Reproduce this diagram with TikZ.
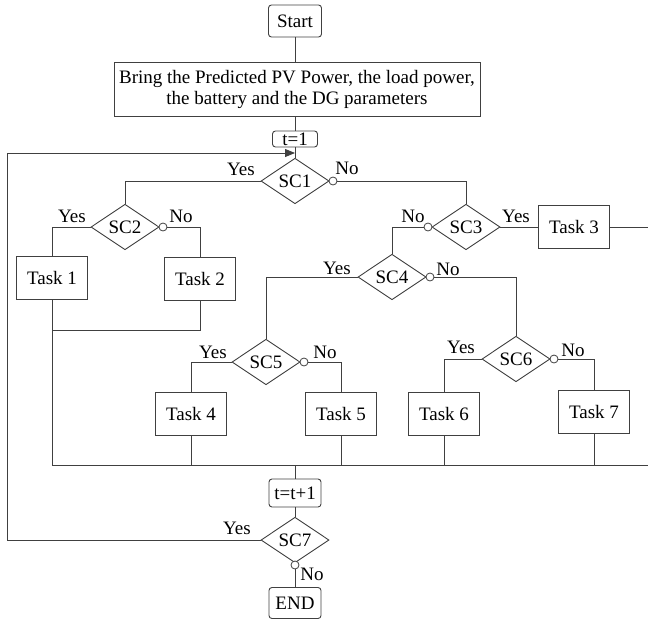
\documentclass[tikz,border=0pt]{standalone}
\usepackage{fontspec}
\setmainfont{Liberation Serif}
\usepackage{tikz}
\usetikzlibrary{positioning,shapes.geometric,arrows.meta}
\definecolor{FlowLine}{HTML}{404040}

\begin{document}
\begin{tikzpicture}[x=1pt,y=-1pt,>={Triangle[length=10pt,width=8pt]},
  line width=0.9pt,draw=FlowLine,font=\fontsize{19}{21}\selectfont]
  \tikzstyle{roundbox}=[draw=FlowLine,rounded corners=3pt,inner xsep=3pt,inner ysep=1pt]
  \tikzstyle{taskbox}=[draw=FlowLine,minimum width=71pt,minimum height=43pt,inner sep=2pt]
  \tikzstyle{testbox}=[draw=FlowLine,diamond,minimum width=68pt,minimum height=42pt,inner sep=0pt]
  \tikzstyle{nodot}=[draw=FlowLine,fill=white,circle,minimum size=8pt,inner sep=0pt,line width=0.8pt]
  \tikzstyle{branch}=[inner sep=0pt,anchor=base]
  \useasboundingbox (0,0) rectangle (648,621);
  % main column
  \node[roundbox,minimum width=53pt,minimum height=32pt] (start) at (295,21) {Start};
  \node[draw=FlowLine,minimum width=366pt,minimum height=54pt,align=center,inner sep=1pt] (bring) at (297,89)
    {Bring the Predicted PV Power, the load power,\\the battery and the DG parameters};
  \node[roundbox,minimum width=45pt,minimum height=16pt] (tone) at (295,139) {t=1};
  \node[testbox] (sc1) at (295,181) {SC1};
  \node[nodot] (c1) at (333,181) {};
  % left part
  \node[testbox] (sc2) at (125,227) {SC2};
  \node[nodot] (c2) at (163,227) {};
  \node[taskbox] (t1) at (52,278) {Task 1};
  \node[taskbox] (t2) at (200,279) {Task 2};
  % right part
  \node[testbox] (sc3) at (466,227) {SC3};
  \node[nodot] (c3) at (428,227) {};
  \node[taskbox] (t3) at (574,227) {Task 3};
  \node[testbox] (sc4) at (392,277) {SC4};
  \node[nodot] (c4) at (430,277) {};
  \node[testbox] (sc5) at (266,362) {SC5};
  \node[nodot] (c5) at (304,362) {};
  \node[testbox] (sc6) at (516,359) {SC6};
  \node[nodot] (c6) at (554,359) {};
  \node[taskbox] (t4) at (191,414) {Task 4};
  \node[taskbox] (t5) at (341,414) {Task 5};
  \node[taskbox] (t6) at (444,414) {Task 6};
  \node[taskbox] (t7) at (594,412) {Task 7};
  % bottom
  \node[roundbox,minimum width=52pt,minimum height=28pt] (tinc) at (295,493) {t=t+1};
  \node[testbox] (sc7) at (295,540) {SC7};
  \node[nodot] (c7) at (295,565) {};
  \node[roundbox,minimum width=52pt,minimum height=31pt] (endn) at (295,603) {END};
  % branch labels
  \node[branch] (y1) at (241,175) {Yes};
  \node[branch] (n1) at (347,174) {No};
  \node[branch] (y2) at (72,222) {Yes};
  \node[branch] (n2) at (181,222) {No};
  \node[branch] (n3) at (413,222) {No};
  \node[branch] (y3) at (516,222) {Yes};
  \node[branch] (y4) at (337,274) {Yes};
  \node[branch] (n4) at (448,275) {No};
  \node[branch] (y5) at (213,358) {Yes};
  \node[branch] (n5) at (325,358) {No};
  \node[branch] (y6) at (461,353) {Yes};
  \node[branch] (n6) at (573,356) {No};
  \node[branch] (y7) at (237,534) {Yes};
  \node[branch] (n7) at (312,580) {No};
  % junctions
  \coordinate (j12) at (52,330);
  \coordinate (busR) at (652,465);
  \coordinate (loopL) at (7,153);
  \coordinate (loopin) at (295,153);
  % connectors
  \draw (start.south) -- (start.south |- bring.north);
  \draw (bring.south -| tone) -- (tone);
  \draw (tone) -- (sc1);
  \draw (sc1.west) -| (sc2.north);
  \draw (c1.east) -| (sc3.north);
  \draw (sc2.west) -| (t1.north);
  \draw (c2.east) -| (t2.north);
  \draw (t2.south) |- (j12);
  \draw (t1.south) |- (busR);
  \draw (sc3.east) -- (t3.west);
  \draw (t3.east) -| (busR);
  \draw (c3.west) -| (sc4.north);
  \draw (sc4.west) -| (sc5.north);
  \draw (c4.east) -| (sc6.north);
  \draw (sc5.west) -| (t4.north);
  \draw (c5.east) -| (t5.north);
  \draw (sc6.west) -| (t6.north);
  \draw (c6.east) -| (t7.north);
  \draw (t4) -- (t4 |- busR);
  \draw (t5) -- (t5 |- busR);
  \draw (t6) -- (t6 |- busR);
  \draw (t7) -- (t7 |- busR);
  \draw (tinc |- busR) -- (tinc);
  \draw (tinc) -- (sc7);
  \draw (c7) -- (endn);
  \draw[->] (sc7.west) -| (loopL) -- (loopin);
\end{tikzpicture}
\end{document}
